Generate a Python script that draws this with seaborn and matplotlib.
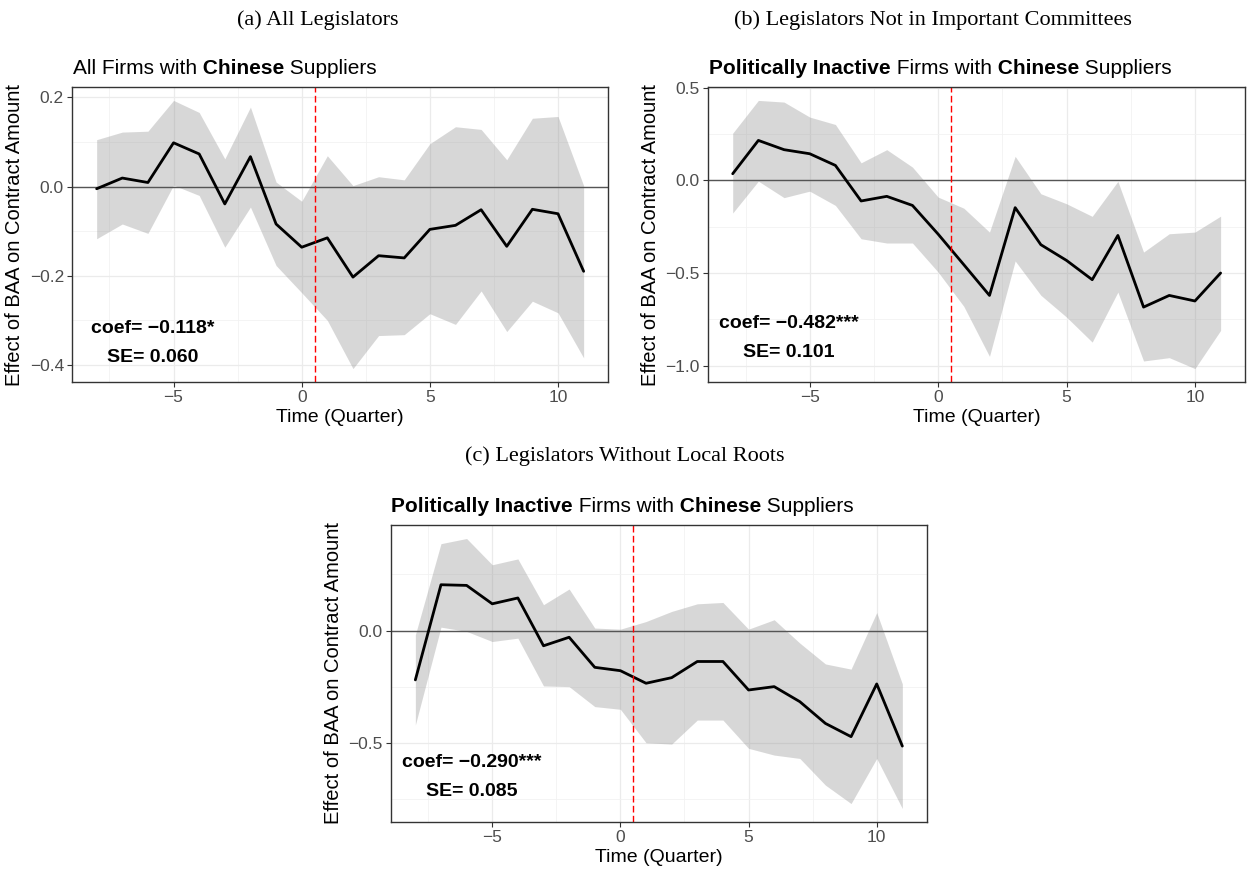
import numpy as np
import pandas as pd
import matplotlib
matplotlib.use("Agg")
import matplotlib.pyplot as plt
from matplotlib.text import Annotation
import seaborn as sns

# Event-study estimates by quarter relative to treatment
quarters = list(range(-8, 12))

a_coef = [-0.005, 0.019, 0.009, 0.098, 0.073, -0.039, 0.067, -0.084, -0.136, -0.115,
          -0.203, -0.155, -0.160, -0.096, -0.087, -0.052, -0.134, -0.051, -0.061, -0.190]
a_hi = [0.105, 0.122, 0.124, 0.193, 0.166, 0.062, 0.178, 0.010, -0.033, 0.069,
        0.002, 0.022, 0.015, 0.096, 0.134, 0.128, 0.060, 0.153, 0.157, 0.002]
a_lo = [-0.117, -0.084, -0.105, 0.003, -0.020, -0.136, -0.046, -0.177, -0.238, -0.300,
        -0.408, -0.334, -0.332, -0.285, -0.309, -0.234, -0.325, -0.257, -0.283, -0.384]

b_coef = [0.036, 0.216, 0.166, 0.144, 0.081, -0.111, -0.086, -0.135, -0.290, -0.455,
          -0.621, -0.147, -0.347, -0.432, -0.536, -0.297, -0.684, -0.621, -0.651, -0.500]
b_hi = [0.255, 0.432, 0.423, 0.342, 0.302, 0.095, 0.166, 0.072, -0.090, -0.150,
        -0.279, 0.130, -0.072, -0.126, -0.194, -0.005, -0.387, -0.288, -0.279, -0.193]
b_lo = [-0.176, -0.004, -0.093, -0.058, -0.135, -0.315, -0.338, -0.338, -0.495, -0.680,
        -0.950, -0.435, -0.620, -0.738, -0.873, -0.603, -0.975, -0.957, -1.016, -0.810]

c_coef = [-0.220, 0.204, 0.201, 0.119, 0.145, -0.068, -0.030, -0.164, -0.179, -0.235,
          -0.210, -0.138, -0.138, -0.265, -0.250, -0.317, -0.414, -0.473, -0.238, -0.515]
c_hi = [-0.019, 0.387, 0.410, 0.293, 0.319, 0.115, 0.185, 0.011, 0.006, 0.040,
        0.085, 0.119, 0.125, 0.006, 0.048, -0.056, -0.149, -0.172, 0.080, -0.238]
c_lo = [-0.421, 0.015, -0.004, -0.049, -0.034, -0.247, -0.250, -0.339, -0.351, -0.500,
        -0.506, -0.399, -0.399, -0.525, -0.555, -0.570, -0.689, -0.771, -0.570, -0.793]

# Pooled estimates shown inside each panel
a_stats = ("coef= \u22120.118*", "SE= 0.060")
b_stats = ("coef= \u22120.482***", "SE= 0.101")
c_stats = ("coef= \u22120.290***", "SE= 0.085")

headers = ["(a) All Legislators",
           "(b) Legislators Not in Important Committees",
           "(c) Legislators Without Local Roots"]
title_all = [("All Firms with", "normal"), (" Chinese", "bold"), (" Suppliers", "normal")]
title_inactive = [("Politically Inactive", "bold"), (" Firms with", "normal"),
                  (" Chinese", "bold"), (" Suppliers", "normal")]

x_label = "Time (Quarter)"
y_label = "Effect of BAA on Contract Amount"
treat_line = 0.5

sns.set_theme(style="white")
plt.rcParams["font.family"] = ["Liberation Sans", "DejaVu Sans"]
plt.rcParams["text.color"] = "black"
plt.rcParams["axes.labelcolor"] = "black"
plt.rcParams["lines.scale_dashes"] = False

W, H = 1247, 873
fig = plt.figure(figsize=(W / 100, H / 100), dpi=100)


def px_rect(left, top, right, bottom):
    return [left / W, 1 - bottom / H, (right - left) / W, (bottom - top) / H]


def panel(rect, coef, lo, hi, yticks, yminor, stats, stat_pos):
    ax = fig.add_axes(rect)
    df = pd.DataFrame({"q": quarters, "coef": coef, "lo": lo, "hi": hi})
    ax.fill_between(df["q"], df["lo"], df["hi"], color="#8c8c8c", alpha=0.34,
                    linewidth=0, zorder=2)
    sns.lineplot(data=df, x="q", y="coef", ax=ax, color="black", linewidth=2.0,
                 zorder=4)
    ax.margins(x=0.05, y=0.05)
    ax.axhline(0, color="#555555", linewidth=1.0, zorder=3)
    ax.axvline(treat_line, color="#ff0000", linewidth=1.0, linestyle=(0, (4.8, 2.4)),
               zorder=5)
    ax.set_xticks([-5, 0, 5, 10])
    ax.set_xticklabels(["\u22125", "0", "5", "10"])
    ax.set_xticks([-7.5, -2.5, 2.5, 7.5], minor=True)
    ax.set_yticks(yticks)
    ax.set_yticklabels([f"{v:.1f}".replace("-", "\u2212") for v in yticks])
    ax.set_yticks(yminor, minor=True)
    ax.grid(which="major", color="#ebebeb", linewidth=0.9, zorder=0)
    ax.grid(which="minor", color="#f2f2f2", linewidth=0.6, zorder=0)
    ax.set_axisbelow(True)
    ax.tick_params(which="major", length=3.5, width=0.8, color="#333333",
                   labelsize=12.5, labelcolor="#4d4d4d", pad=2.5,
                   left=True, bottom=True)
    ax.tick_params(which="minor", length=0)
    for s in ax.spines.values():
        s.set_color("#333333")
        s.set_linewidth(1.0)
        s.set_zorder(6)
    ax.set_xlabel(x_label, fontsize=14, color="black", labelpad=3)
    ax.set_ylabel(y_label, fontsize=14.5, color="black", labelpad=4)
    sx, sy1, sy2 = stat_pos
    ax.text(sx, sy1, stats[0], ha="center", va="center", fontsize=14,
            fontweight="bold", color="black", zorder=7)
    ax.text(sx, sy2, stats[1], ha="center", va="center", fontsize=14,
            fontweight="bold", color="black", zorder=7)
    return ax


def mixed_title(x_px, y_px, parts, size=15):
    """Write a title whose pieces alternate between regular and bold weight."""
    prev = None
    for txt, weight in parts:
        if prev is None:
            prev = fig.text(x_px / W, 1 - y_px / H, txt, fontsize=size,
                            fontweight=weight, color="black",
                            ha="left", va="bottom")
        else:
            prev = fig.add_artist(Annotation(
                txt, xy=(1, 0), xycoords=prev, xytext=(0, 0),
                textcoords="offset points", fontsize=size, color="black",
                fontweight=weight, ha="left", va="bottom"))


ax_a = panel(px_rect(72.3, 87, 608, 382), a_coef, a_lo, a_hi,
             [-0.4, -0.2, 0.0, 0.2], [-0.3, -0.1, 0.1],
             a_stats, (-5.8, -0.318, -0.383))
ax_b = panel(px_rect(708.3, 87, 1245, 382), b_coef, b_lo, b_hi,
             [-1.0, -0.5, 0.0, 0.5], [-0.75, -0.25, 0.25],
             b_stats, (-5.8, -0.773, -0.929))
ax_c = panel(px_rect(391, 525, 926.7, 822), c_coef, c_lo, c_hi,
             [-0.5, 0.0], [-0.75, -0.25, 0.25],
             c_stats, (-5.8, -0.589, -0.719))

mixed_title(73, 78, title_all)
mixed_title(709, 78, title_inactive)
mixed_title(391, 516, title_inactive)

serif = ["Liberation Serif", "DejaVu Serif"]
fig.text(318 / W, 1 - 20 / H, headers[0], family=serif, fontsize=16,
         color="black", ha="center", va="center")
fig.text(933 / W, 1 - 20 / H, headers[1], family=serif, fontsize=16,
         color="black", ha="center", va="center")
fig.text(625 / W, 1 - 456 / H, headers[2], family=serif, fontsize=16,
         color="black", ha="center", va="center")

fig.savefig("out.png", dpi=100, facecolor="white")
